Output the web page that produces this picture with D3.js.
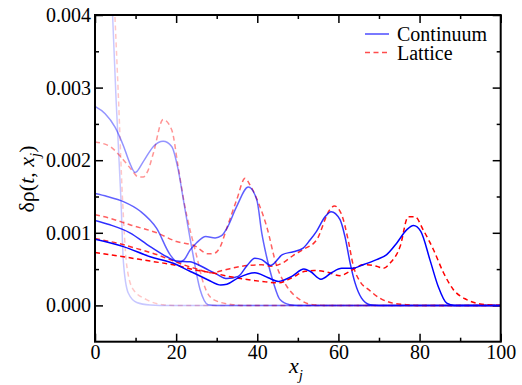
<!DOCTYPE html>
<html>
<head>
<meta charset="utf-8">
<script src="https://cdn.jsdelivr.net/npm/d3@7"></script>
<style>
svg text, svg tspan { font-family: "Liberation Serif", "Times New Roman", Times, serif !important; }
</style>
</head>
<body style="margin:0">
<script>
// density values in units of 1e-3
var contT1 = [[0, 9], [2.5, 6.5], [4.3, 4.05], [5.2, 2.83], [6.4, 1.45], [7.0, 0.6], [8.2, 0.17], [10.3, 0.04], [13.6, 0.005], [16, 0], [100, 0]];
var latT1  = [[0, 9], [2.5, 7], [4.9, 4.0], [5.7, 2.97], [6.8, 1.45], [7.8, 0.56], [9.4, 0.22], [12.7, 0.08], [16.8, 0.01], [20, 0], [100, 0]];

var contT2 = [[0, 2.74], [2.5, 2.64], [4.9, 2.46], [7, 2.2], [8.5, 1.97], [9.9, 1.83], [11.9, 1.98], [14.4, 2.19], [16.8, 2.26], [18.9, 2.19], [20.5, 1.87], [21.8, 1.45], [23.8, 0.81], [25.9, 0.22], [27.9, 0.01], [30, 0], [100, 0]];
var latT2  = [[0, 2.25], [3.7, 2.19], [6.6, 2.03], [9, 1.87], [10.7, 1.77], [11.9, 1.77], [13, 1.85], [14.4, 2.10], [16.8, 2.56], [18.9, 2.42], [20.5, 1.91], [22, 1.41], [25.1, 0.67], [26.7, 0.31], [29.2, 0.08], [34, 0.01], [37, 0], [100, 0]];

var contT3 = [[0, 1.54], [3, 1.5], [7, 1.43], [11.1, 1.3], [15.2, 1.06], [18.5, 0.7], [20.5, 0.59], [22, 0.63], [23.4, 0.76], [25, 0.86], [27.3, 0.95], [29.6, 0.93], [31.2, 0.96], [32.5, 1.06], [34.9, 1.36], [37.8, 1.63], [39.9, 1.45], [41.1, 1.0], [42.3, 0.67], [44, 0.31], [45.6, 0.08], [48, 0.01], [50, 0], [100, 0]];
var latT3  = [[0, 1.25], [3.7, 1.20], [8.6, 1.11], [15.2, 1.0], [20.1, 0.88], [24.6, 0.82], [27.9, 0.71], [29.5, 0.72], [30.8, 0.8], [32.4, 1.05], [34.9, 1.45], [37, 1.75], [38.2, 1.66], [40.3, 1.41], [42.3, 1.09], [44.8, 0.54], [47.3, 0.26], [50.5, 0.08], [53.7, 0.01], [57, 0], [100, 0]];

var contT4 = [[0, 1.17], [3.7, 1.11], [8.6, 1.0], [13.6, 0.81], [17.7, 0.67], [20.1, 0.61], [23.4, 0.6], [24.6, 0.58], [27.9, 0.49], [30, 0.43], [32.5, 0.37], [35.3, 0.40], [37.5, 0.55], [39.4, 0.65], [41.1, 0.63], [43.3, 0.55], [46.2, 0.7], [48.9, 0.74], [51.3, 0.79], [53, 0.9], [54.6, 1.02], [56.7, 1.22], [58.2, 1.29], [60.4, 1.18], [61.6, 0.95], [62.9, 0.58], [64.1, 0.31], [65.7, 0.10], [67.8, 0.01], [70, 0], [100, 0]];
var latT4  = [[0, 0.92], [5.3, 0.86], [11.1, 0.77], [15.2, 0.70], [18.5, 0.63], [21.8, 0.56], [24.6, 0.51], [28.8, 0.45], [32, 0.49], [36.2, 0.54], [41.1, 0.56], [43.5, 0.54], [46.4, 0.59], [48.9, 0.69], [51.3, 0.77], [54.6, 0.90], [57.9, 1.32], [59, 1.37], [60.8, 1.25], [62.4, 0.90], [63.7, 0.54], [65.3, 0.33], [67.4, 0.22], [70.2, 0.10], [73.5, 0.03], [76.8, 0.01], [80, 0], [100, 0]];

var contT5 = [[0, 0.91], [7, 0.81], [13.6, 0.67], [19.3, 0.58], [23.4, 0.47], [24.6, 0.44], [27.9, 0.35], [31, 0.28], [32.5, 0.29], [35.3, 0.38], [39.4, 0.45], [42.7, 0.38], [45.2, 0.33], [48.5, 0.40], [51.5, 0.50], [53, 0.47], [55.7, 0.36], [58.3, 0.45], [60.8, 0.51], [63.3, 0.51], [66.1, 0.56], [69.4, 0.63], [71.9, 0.70], [74.4, 0.86], [76.8, 1.04], [78.5, 1.10], [80.3, 1.02], [82.6, 0.62], [84.6, 0.26], [86.7, 0.03], [88.5, 0], [100, 0]];
var latT5  = [[0, 0.73], [7, 0.67], [13.6, 0.61], [19.3, 0.56], [24.6, 0.49], [28.8, 0.45], [32.9, 0.40], [37, 0.36], [41.1, 0.33], [45.2, 0.31], [48.5, 0.38], [51.8, 0.47], [54, 0.48], [57.1, 0.46], [60.4, 0.41], [62.9, 0.47], [66.1, 0.56], [69.4, 0.54], [71.1, 0.51], [72.7, 0.58], [75.2, 0.81], [77.2, 1.22], [78.9, 1.22], [80.9, 1.04], [83.4, 0.77], [85.9, 0.45], [88.3, 0.22], [91.6, 0.08], [94.9, 0.02], [98, 0.005], [100, 0]];

var contSeries = [contT1, contT2, contT3, contT4, contT5];
var latSeries = [latT1, latT2, latT3, latT4, latT5];
var snapAlpha = [0.22, 0.42, 0.62, 0.82, 1.0];

var xTicks = [0, 20, 40, 60, 80, 100];
var xMinor = [10, 30, 50, 70, 90];
var yTicks = [0, 0.001, 0.002, 0.003, 0.004];
var yMinor = [0.0005, 0.0015, 0.0025, 0.0035];
var legendNames = ["Continuum", "Lattice"];

var WIDTH = 522, HEIGHT = 385;
var LEFT = 95, RIGHT = 500.7, TOP = 15, BOTTOM = 341.7;
var BLUE = "#0000ff", RED = "#ff0000";

var svg = d3.select("body").append("svg")
	.attr("width", WIDTH)
	.attr("height", HEIGHT)
	.attr("font-family", "Liberation Serif");

var x = d3.scaleLinear().domain([0, 100]).range([LEFT, RIGHT]);
var y = d3.scaleLinear().domain([-0.0005, 0.004]).range([BOTTOM, TOP]);

var line = d3.line()
	.x(function(d) { return x(d[0]); })
	.y(function(d) { return y(d[1] * 1e-3); })
	.curve(d3.curveMonotoneX);

// serif text helper, same way for every label
var serif = function(sel, size) {
	return sel.style("font-family", "\"Liberation Serif\"").attr("font-size", size);
};

// axis titles and legend first
var xt = serif(svg.append("text"), 22)
	.attr("x", 296).attr("y", 373)
	.attr("text-anchor", "middle");
xt.append("tspan").attr("font-style", "italic").text("x");
xt.append("tspan").attr("font-style", "italic").attr("font-size", 15).attr("dy", 7).text("j");

var yt = serif(svg.append("text"), 22)
	.attr("transform", "translate(34,179) rotate(-90)")
	.attr("text-anchor", "middle");
yt.append("tspan").text("δρ(");
yt.append("tspan").attr("font-style", "italic").text("t");
yt.append("tspan").text(", ");
yt.append("tspan").attr("font-style", "italic").text("x");
yt.append("tspan").attr("font-style", "italic").attr("font-size", 15).attr("dy", 6).text("j");
yt.append("tspan").attr("dy", -6).text(")");

legendNames.forEach(function(name, k) {
	var ly = 34 + k * 18.5;
	svg.append("line")
		.attr("x1", 365).attr("x2", 389)
		.attr("y1", ly).attr("y2", ly)
		.attr("stroke", k === 0 ? BLUE : RED)
		.attr("stroke-opacity", 0.7)
		.attr("stroke-width", 1.5)
		.attr("stroke-dasharray", k === 0 ? null : "5,3.5");
	serif(svg.append("text"), 20)
		.attr("x", 397).attr("y", ly + 7)
		.text(name);
});

// axes with inward ticks on all four sides
var drawAxis = function(axis, tx, ty, labels) {
	var g = svg.append("g")
		.attr("transform", "translate(" + tx + "," + ty + ")")
		.call(axis);
	g.attr("font-family", null).attr("font-size", null);
	g.select(".domain").remove();
	g.selectAll(".tick line").attr("stroke-width", 1.5);
	if (!labels) g.selectAll("text").remove();
	else serif(g.selectAll("text"), 20).attr("fill", "#000");
	return g;
};

var fmtY = d3.format(".3f");

drawAxis(d3.axisBottom(x).tickValues(xTicks).tickSize(-8).tickPadding(3).tickFormat(d3.format("d")), 0, BOTTOM, true);
drawAxis(d3.axisBottom(x).tickValues(xMinor).tickSize(-4), 0, BOTTOM, false);
drawAxis(d3.axisTop(x).tickValues(xTicks).tickSize(-8), 0, TOP, false);
drawAxis(d3.axisTop(x).tickValues(xMinor).tickSize(-4), 0, TOP, false);
drawAxis(d3.axisLeft(y).tickValues(yTicks).tickSize(-8).tickPadding(4).tickFormat(fmtY), LEFT, 0, true);
drawAxis(d3.axisLeft(y).tickValues(yMinor).tickSize(-4), LEFT, 0, false);
drawAxis(d3.axisRight(y).tickValues(yTicks).tickSize(-8), RIGHT, 0, false);
drawAxis(d3.axisRight(y).tickValues(yMinor).tickSize(-4), RIGHT, 0, false);

// curves, clipped to the frame
svg.append("clipPath").attr("id", "plot")
	.append("rect")
	.attr("x", LEFT).attr("y", TOP)
	.attr("width", RIGHT - LEFT).attr("height", BOTTOM - TOP);

var curves = svg.append("g").attr("clip-path", "url(#plot)");

for (var i = 0; i < 5; i++) {
	curves.append("path")
		.attr("d", line(latSeries[i]))
		.attr("fill", "none")
		.attr("stroke", RED)
		.attr("stroke-opacity", snapAlpha[i])
		.attr("stroke-width", 1.5)
		.attr("stroke-dasharray", "5,3.5");
	curves.append("path")
		.attr("d", line(contSeries[i]))
		.attr("fill", "none")
		.attr("stroke", BLUE)
		.attr("stroke-opacity", snapAlpha[i])
		.attr("stroke-width", 1.5);
}

svg.append("rect")
	.attr("x", LEFT).attr("y", TOP)
	.attr("width", RIGHT - LEFT).attr("height", BOTTOM - TOP)
	.attr("fill", "none")
	.attr("stroke", "#000")
	.attr("stroke-width", 2);
</script>
</body>
</html>
